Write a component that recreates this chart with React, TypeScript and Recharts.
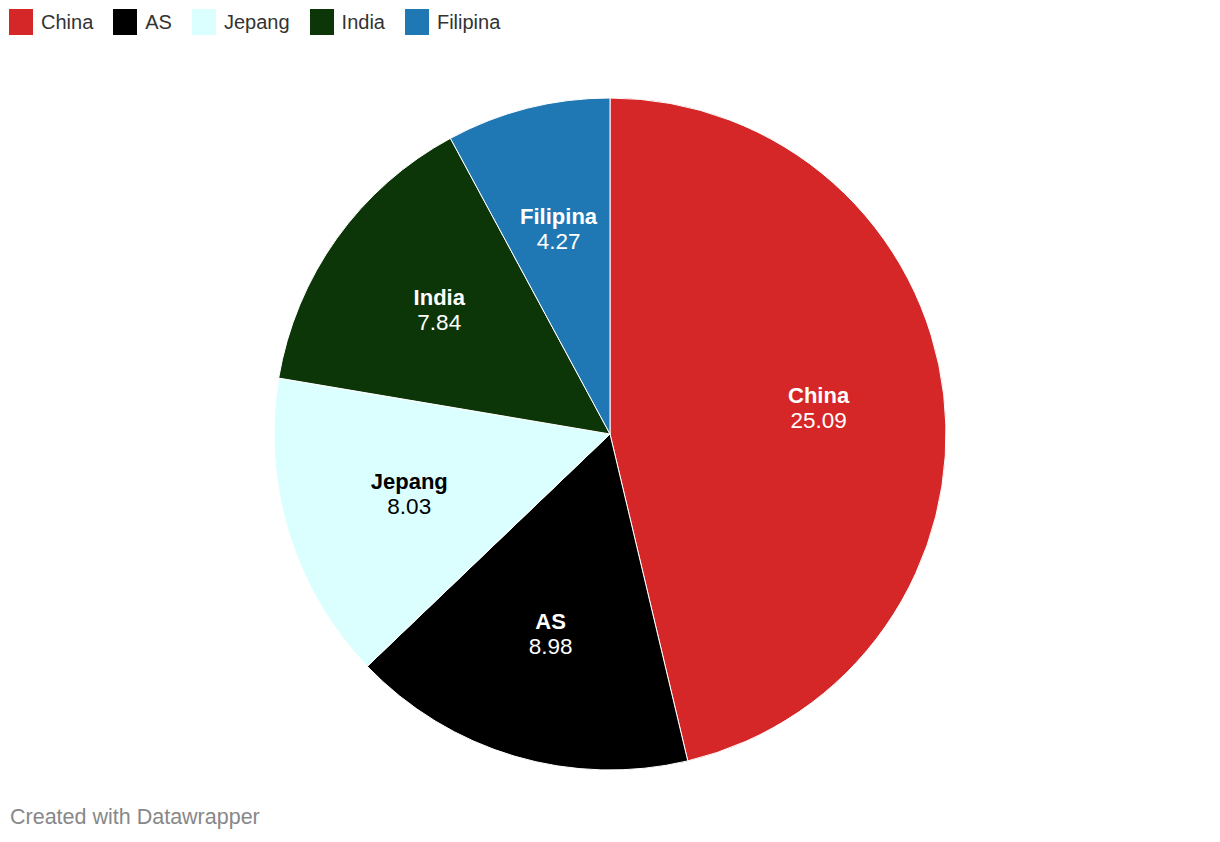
import React from "react";
import { PieChart, Pie, Cell } from "recharts";

const categories = ["China", "AS", "Jepang", "India", "Filipina"];
const values = [25.09, 8.98, 8.03, 7.84, 4.27];
const colors = ["#d62728", "#000000", "#dbffff", "#0d3608", "#1f77b4"];
const labelColors = ["#ffffff", "#ffffff", "#000000", "#ffffff", "#ffffff"];

const data = categories.map((name, i) => ({ name, value: values[i] }));

const RAD = Math.PI / 180;

const renderLabel = (props: any) => {
  const { cx, cy, midAngle, outerRadius, index, name, value } = props;
  const r = outerRadius * 0.625;
  const x = cx + r * Math.cos(-midAngle * RAD);
  const y = cy + r * Math.sin(-midAngle * RAD);
  const fill = labelColors[index];
  return (
    <g>
      <text
        x={x}
        y={y - 14}
        textAnchor="middle"
        dominantBaseline="central"
        fill={fill}
        fontFamily="'Liberation Sans', Arial, sans-serif"
        fontWeight="bold"
        fontSize={22}
      >
        {name}
      </text>
      <text
        x={x}
        y={y + 11}
        textAnchor="middle"
        dominantBaseline="central"
        fill={fill}
        fontFamily="'Liberation Sans', Arial, sans-serif"
        fontSize={22.5}
      >
        {value.toFixed(2)}
      </text>
    </g>
  );
};

export default function App() {
  return (
    <div style={{ position: "absolute", left: 0, top: 0, width: 1220, height: 842, background: "#fff" }}>
      <PieChart width={1220} height={842} margin={{ top: 0, right: 0, bottom: 0, left: 0 }}>
        <Pie
          data={data}
          dataKey="value"
          nameKey="name"
          cx={610}
          cy={434}
          outerRadius={336}
          startAngle={90}
          endAngle={-270}
          stroke="#ffffff"
          strokeWidth={1}
          label={renderLabel}
          labelLine={false}
          isAnimationActive={false}
        >
          {data.map((d, i) => (
            <Cell key={d.name} fill={colors[i]} />
          ))}
        </Pie>
      </PieChart>
      <div
        style={{
          position: "absolute",
          left: 9,
          top: 9,
          display: "flex",
          alignItems: "center",
          fontFamily: "'Liberation Sans', Arial, sans-serif",
          fontSize: 20,
          color: "#333333",
        }}
      >
        {categories.map((c, i) => (
          <div key={c} style={{ display: "flex", alignItems: "center", marginRight: 20 }}>
            <div style={{ width: 24, height: 26, background: colors[i], marginRight: 8 }} />
            <span>{c}</span>
          </div>
        ))}
      </div>
      <div
        style={{
          position: "absolute",
          left: 10,
          top: 805,
          fontFamily: "'Liberation Sans', Arial, sans-serif",
          fontSize: 21.5,
          color: "#888888",
        }}
      >
        Created with Datawrapper
      </div>
    </div>
  );
}
